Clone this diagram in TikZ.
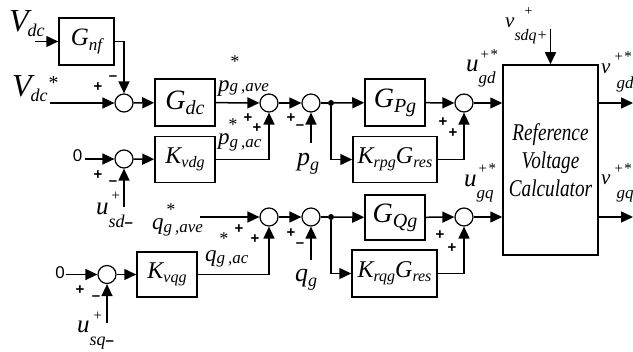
\documentclass[tikz,border=0pt]{standalone}
\usepackage{fontspec}
\setmainfont{Liberation Serif}
\setsansfont{Liberation Sans}
\newfontfamily\condfont[FakeStretch=0.8]{Liberation Serif}
\usetikzlibrary{arrows.meta}
\newcommand\fs[1]{\fontsize{#1}{#1}\selectfont}
\newcommand\lsub[3]{\raisebox{#1}{\fs{#2}#3}}
\newcommand\stk[7]{\rlap{\hspace{#1}\raisebox{#2}{\fs{#3}#4}}\raisebox{#5}{\fs{#6}#7}}
\newcommand\mns{{\sffamily\bfseries\fs{15}–}}
\tikzset{
  blk/.style={draw, line width=1.5pt, inner sep=0pt, font=\fs{25}\itshape},
  sumc/.style={draw, circle, line width=1.2pt, minimum size=18pt, inner sep=0pt},
  jdot/.style={circle, fill, minimum size=6pt, inner sep=0pt},
  sig/.style={font=\fs{15}\sffamily\bfseries, inner sep=0pt},
  lbl/.style={font=\fs{23}\itshape, inner sep=0pt, anchor=base west},
  arr/.style={-{Triangle[length=12pt,width=11pt]}, line width=1.5pt},
  ln/.style={line width=1.5pt},
}
\begin{document}
\begin{tikzpicture}[x=1pt,y=-1pt]
\useasboundingbox[fill=white] (0,0) rectangle (633,352);
% blocks
\node[blk, minimum width=55pt, minimum height=47pt] (gnf) at (86.5,41.5) {G\lsub{-5pt}{17}{nf}};
\node[blk, minimum width=60pt, minimum height=47pt, font=\fs{28}\itshape] (gdc) at (185,102.5) {G\lsub{-5pt}{20}{dc}};
\node[blk, minimum width=60pt, minimum height=46pt, font=\fs{24}\itshape] (kvdg) at (185,159.5) {K\lsub{-4pt}{16}{vdg}};
\node[blk, minimum width=60pt, minimum height=47pt, font=\fs{28}\itshape] (gpg) at (395,102.5) {G\lsub{-5pt}{20}{Pg}};
\node[blk, minimum width=84pt, minimum height=46pt, font=\fs{24}\itshape] (krpg) at (395,159.5) {K\lsub{-4pt}{16}{rpg}G\lsub{-4pt}{16}{res}};
\node[blk, minimum width=95pt, minimum height=190pt, font=\condfont\itshape\fs{24}, align=center] (rvc) at (550.5,160) {Reference\\[4pt]Voltage\\[4pt]Calculator};
\node[blk, minimum width=60pt, minimum height=45pt, font=\fs{28}\itshape] (gqg) at (395,217.5) {G\lsub{-5pt}{20}{Qg}};
\node[blk, minimum width=85pt, minimum height=47pt, font=\fs{24}\itshape] (krqg) at (394.5,273.5) {K\lsub{-4pt}{16}{rqg}G\lsub{-4pt}{16}{res}};
\node[blk, minimum width=60pt, minimum height=45pt, font=\fs{24}\itshape] (kvqg) at (167,274.5) {K\lsub{-4pt}{16}{vqg}};
% summing junctions
\node[sumc] (s1) at (124,103) {};
\node[sumc] (s2) at (269,103) {};
\node[sumc] (s3) at (311,103) {};
\node[sumc] (s4) at (124,159) {};
\node[sumc] (s5) at (464,103) {};
\node[sumc] (s6) at (269,217) {};
\node[sumc] (s7) at (311,217) {};
\node[sumc] (s8) at (107,274.5) {};
\node[sumc] (s9) at (464,217) {};
\node[jdot] (d1) at (331,103) {};
\node[jdot] (d2) at (331,217) {};
% free ends
\coordinate (vdcin) at (35,41.5);
\coordinate (vdcs) at (50,103);
\coordinate (z1) at (85,159);
\coordinate (usd) at (124,207);
\coordinate (pgin) at (311,143);
\coordinate (vsdq) at (550.5,29);
\coordinate (vgdout) at (633,103);
\coordinate (vgqout) at (633,217);
\coordinate (qave) at (200,217);
\coordinate (z2) at (66,274.5);
\coordinate (usq) at (107,323);
\coordinate (qgin) at (311,260);
% connectors
\draw[arr] (vdcin) -- (gnf);
\draw[arr] (gnf.east) -| (s1.north);
\draw[arr] (vdcs) -- (s1);
\draw[arr] (s1) -- (gdc);
\draw[arr] (gdc) -- (s2);
\draw[arr] (z1) -- (s4);
\draw[arr] (usd) -- (s4);
\draw[arr] (s4) -- (kvdg);
\draw[arr] (kvdg.east) -| (s2.south);
\draw[arr] (s2) -- (s3);
\draw[arr] (pgin) -- (s3);
\draw[ln] (s3) -- (d1);
\draw[arr] (d1) -- (gpg);
\draw[arr] (d1) |- (krpg.west);
\draw[arr] (gpg) -- (s5);
\draw[arr] (krpg.east) -| (s5.south);
\draw[arr] (s5) -- (s5 -| rvc.west);
\draw[arr] (vsdq) -- (rvc.north);
\draw[arr] (vgdout -| rvc.east) -- (vgdout);
\draw[arr] (vgqout -| rvc.east) -- (vgqout);
\draw[arr] (qave) -- (s6);
\draw[arr] (z2) -- (s8);
\draw[arr] (usq) -- (s8);
\draw[arr] (s8) -- (kvqg);
\draw[arr] (kvqg.east) -| (s6.south);
\draw[arr] (s6) -- (s7);
\draw[arr] (qgin) -- (s7);
\draw[ln] (s7) -- (d2);
\draw[arr] (d2) -- (gqg);
\draw[arr] (d2) |- (krqg.west);
\draw[arr] (gqg) -- (s9);
\draw[arr] (krqg.east) -| (s9.south);
\draw[arr] (s9) -- (s9 -| rvc.west);
% signs
\node[sig] (p1a) at (98,87) {+};
\node[sig] (m1a) at (113,78) {–};
\node[sig] (p2a) at (248,118) {+};
\node[sig] (p2b) at (257,128) {+};
\node[sig] (p3a) at (291,118) {+};
\node[sig] (m3a) at (300,127) {–};
\node[sig] (p4a) at (98,175) {+};
\node[sig] (m4a) at (113,183) {–};
\node[sig] (p5a) at (443,122) {+};
\node[sig] (p5b) at (453,133) {+};
\node[sig] (p6a) at (239,229) {+};
\node[sig] (p6b) at (255,239) {+};
\node[sig] (p7a) at (291,233) {+};
\node[sig] (m7a) at (300,245) {–};
\node[sig] (p8a) at (80,290) {+};
\node[sig] (m8a) at (96,298) {–};
\node[sig] (p9a) at (440,235) {+};
\node[sig] (p9b) at (452,248) {+};
% zero inputs
\node[font=\fs{17}\sffamily, inner sep=0pt] (zl1) at (77.5,156) {0};
\node[font=\fs{17}\sffamily, inner sep=0pt] (zl2) at (60,273) {0};
% labels
\node[lbl, font=\fs{32}\itshape] (lvdc) at (9,32) {V\kern-1pt\lsub{-5pt}{18}{dc}};
\node[lbl, font=\fs{32}\itshape] (lvdcs) at (12,97) {V\kern-1pt\lsub{-5pt}{18}{dc}\lsub{7pt}{20}{*}};
\node[lbl] (lpgave) at (218,92) {p\stk{0pt}{24pt}{18}{*}{0pt}{17}{g\,,ave}};
\node[lbl] (lpgac) at (218,145) {p\stk{-2pt}{14pt}{18}{*}{-3pt}{17}{g\,,ac}};
\node[lbl, font=\fs{26}\itshape] (lpg) at (297,166) {p\lsub{-5pt}{18}{g}};
\node[lbl, font=\fs{26}\itshape] (lqg) at (295,282) {q\lsub{-5pt}{18}{g}};
\node[lbl] (lqgave) at (152,230) {q\stk{2pt}{14pt}{18}{*}{-3pt}{17}{g\,,ave}};
\node[lbl] (lqgac) at (205,262) {q\stk{2pt}{17pt}{18}{*}{-2pt}{17}{g\,,ac}};
\node[lbl, font=\fs{25}\itshape] (lusd) at (96,215) {u\stk{2pt}{14pt}{15}{+}{-13pt}{18}{sd\mns}};
\node[lbl, font=\fs{25}\itshape] (lusq) at (77,333) {u\stk{3pt}{12pt}{15}{+}{-13pt}{18}{sq\mns}};
\node[lbl, font=\fs{21}\itshape] (lvsdq) at (505,28) {v\stk{9pt}{12pt}{14}{+}{-13pt}{16}{sdq+}};
\node[lbl, font=\fs{25}\itshape] (lugd) at (466,72) {u\stk{1pt}{12pt}{15}{+*}{-12pt}{17}{gd}};
\node[lbl, font=\fs{25}\itshape] (lugq) at (464,187) {u\stk{1pt}{13pt}{15}{+*}{-12pt}{17}{gq}};
\node[lbl, font=\fs{21}\itshape] (lvgd) at (601,74) {v\stk{3pt}{12pt}{15}{+*}{-15pt}{17}{\hspace{6pt}gd}};
\node[lbl, font=\fs{21}\itshape] (lvgq) at (601,185) {v\stk{3pt}{11pt}{15}{+*}{-14pt}{17}{\hspace{6pt}gq}};
\end{tikzpicture}
\end{document}
